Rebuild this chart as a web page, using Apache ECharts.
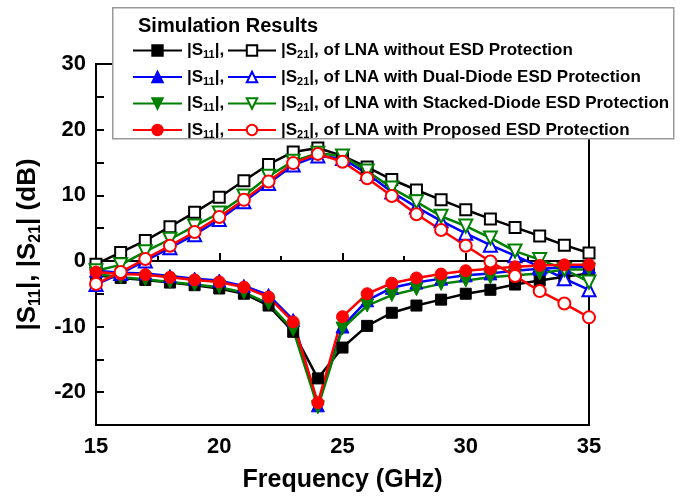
<!DOCTYPE html>
<html>
<head>
    <meta charset="UTF-8">
    <title>LNA S-parameters</title>
    <script src="https://cdn.jsdelivr.net/npm/echarts@6/dist/echarts.min.js"></script>
    <style>
        body { margin: 0; background: #fff; }
    </style>
</head>
<body>
    <div id="chart" style="width:681px; height:498px;"></div>
    <script>
        // frequency points (GHz)
        var freq = [15, 16, 17, 18, 19, 20, 21, 22, 23, 24, 25, 26, 27, 28, 29, 30, 31, 32, 33, 34, 35];

        // |S11| (dB)
        var s11None  = [-2.2, -2.6, -2.9, -3.3, -3.7, -4.2, -5.0, -6.8, -10.8, -17.9, -13.2, -9.9, -7.9, -6.8, -5.9, -5.0, -4.4, -3.6, -3.0, -2.4, -1.9];
        var s11Dual  = [-1.5, -1.8, -1.9, -2.3, -2.7, -3.0, -3.8, -5.2, -9.0, -22.0, -10.0, -6.0, -4.1, -3.3, -2.7, -2.2, -1.9, -1.5, -1.2, -1.0, -0.9];
        var s11Stack = [-2.0, -2.5, -2.8, -3.2, -3.6, -4.0, -4.8, -6.5, -10.5, -22.3, -10.3, -6.8, -5.2, -4.3, -3.5, -3.0, -2.5, -2.2, -1.9, -1.3, -1.3];
        var s11Prop  = [-1.7, -2.0, -2.1, -2.5, -2.9, -3.2, -4.0, -5.5, -9.3, -21.6, -8.5, -5.0, -3.4, -2.6, -2.0, -1.5, -1.2, -0.9, -0.7, -0.6, -0.6];

        // |S21| (dB)
        var s21None  = [-0.5, 1.3, 3.1, 5.2, 7.4, 9.7, 12.2, 14.7, 16.6, 17.2, 16.0, 14.3, 12.4, 10.8, 9.3, 7.8, 6.4, 5.1, 3.8, 2.4, 1.2];
        var s21Dual  = [-3.6, -1.9, 0.0, 2.0, 4.0, 6.3, 9.0, 11.8, 14.6, 16.0, 15.6, 13.3, 10.5, 8.2, 6.1, 4.2, 2.4, 0.8, -0.9, -2.7, -4.4];
        var s21Stack = [-1.5, -0.6, 1.4, 3.3, 5.3, 7.3, 9.9, 12.9, 15.2, 16.4, 16.0, 13.7, 11.1, 9.0, 6.8, 5.3, 3.5, 1.5, 0.2, -1.3, -3.2];
        var s21Prop  = [-3.5, -1.7, 0.3, 2.3, 4.4, 6.7, 9.3, 12.1, 14.9, 16.3, 15.1, 12.6, 9.9, 7.1, 4.7, 2.3, -0.1, -2.3, -4.6, -6.5, -8.6];

        var xTicks = [15, 20, 25, 30, 35];
        var yTicks = [-20, -10, 0, 10, 20, 30];

        var cases = [
            {key: 'None',  text: 'without ESD Protection',              color: '#000000', s11: s11None,  s21: s21None,  sym: 'rect',     size: 11},
            {key: 'Dual',  text: 'with Dual-Diode ESD Protection',      color: '#0000ff', s11: s11Dual,  s21: s21Dual,  sym: 'triangle', size: 13},
            {key: 'Stack', text: 'with Stacked-Diode ESD Protection',   color: '#008000', s11: s11Stack, s21: s21Stack, sym: 'path://M0,0 L10,0 L5,9 Z', size: 13},
            {key: 'Prop',  text: 'with Proposed ESD Protection',        color: '#ff0000', s11: s11Prop,  s21: s21Prop,  sym: 'circle',   size: 12}
        ];

        var FONT = '"Liberation Sans", Arial, sans-serif';

        function pairs(vals) {
            return freq.map(function (f, i) { return [f, vals[i]]; });
        }

        var series = [];
        var legend11 = [];
        var legend21 = [];
        var labelOf = {};
        cases.forEach(function (c) {
            var n11 = 'S11 ' + c.key, n21 = 'S21 ' + c.key;
            legend11.push(n11);
            legend21.push(n21);
            labelOf[n11] = '{t||S}{sub|11}{t||,}';
            labelOf[n21] = '{t||S}{sub|21}{t||, of LNA ' + c.text + '}';
            series.push({
                name: n11, type: 'line', data: pairs(c.s11),
                symbol: c.sym, symbolSize: c.size,
                lineStyle: {color: c.color, width: 2.5},
                itemStyle: {color: c.color, borderColor: c.color, borderWidth: 1},
                z: 3
            });
            series.push({
                name: n21, type: 'line', data: pairs(c.s21),
                symbol: c.sym, symbolSize: c.size,
                lineStyle: {color: c.color, width: 2.5},
                itemStyle: {color: '#ffffff', borderColor: c.color, borderWidth: 2},
                z: 3
            });
        });

        var legendText = {
            fontFamily: FONT,
            rich: {
                t: {fontSize: 17, fontWeight: 'bold', fontFamily: FONT, color: '#000', lineHeight: 20},
                sub: {fontSize: 11, fontWeight: 'bold', fontFamily: FONT, color: '#000', lineHeight: 20, verticalAlign: 'bottom', padding: [5, 0, 0, 0]}
            }
        };

        var chart = echarts.init(document.getElementById('chart'), null, {renderer: 'canvas'});
        chart.setOption({
            animation: false,
            backgroundColor: '#ffffff',
            title: {
                text: 'Simulation Results',
                left: 133, top: 11,
                textStyle: {fontFamily: FONT, fontSize: 20, fontWeight: 'bold', color: '#000'},
                z: 6
            },
            graphic: [{
                type: 'rect', left: 112, top: 7, z: 4,
                shape: {width: 561, height: 131},
                style: {fill: '#ffffff', stroke: '#999999', lineWidth: 1.5}
            }],
            legend: [{
                data: legend11, orient: 'vertical', left: 132, top: 42,
                itemWidth: 49, itemHeight: 13, itemGap: 8, padding: 0,
                formatter: function (name) { return labelOf[name]; },
                textStyle: legendText, z: 6
            }, {
                data: legend21, orient: 'vertical', left: 227, top: 42,
                itemWidth: 48, itemHeight: 13, itemGap: 8, padding: 0,
                formatter: function (name) { return labelOf[name]; },
                textStyle: legendText, z: 6
            }],
            grid: {
                left: 96, right: 92, top: 64, bottom: 71,
                show: true, borderColor: '#000', borderWidth: 2, backgroundColor: 'transparent'
            },
            xAxis: {
                type: 'value', min: 15, max: 35, interval: 5,
                name: 'Frequency (GHz)', nameLocation: 'middle', nameGap: 43,
                nameTextStyle: {fontFamily: FONT, fontSize: 25, fontWeight: 'bold', color: '#000'},
                axisLine: {show: true, lineStyle: {color: '#000', width: 2}},
                axisTick: {show: true, inside: true, length: 8, lineStyle: {color: '#000', width: 2}},
                minorTick: {show: true, splitNumber: 2, length: 5, lineStyle: {color: '#000', width: 2}},
                splitLine: {show: false},
                axisLabel: {
                    margin: 11, fontFamily: FONT, fontSize: 22, fontWeight: 'bold', color: '#000',
                    formatter: function (v) { return xTicks.indexOf(v) >= 0 ? String(v) : ''; }
                }
            },
            yAxis: {
                type: 'value', min: -25, max: 30, interval: 5,
                name: '{t||S}{sub|11}{t||, |S}{sub|21}{t|| (dB)}',
                nameLocation: 'middle', nameGap: 41, nameRotate: 90,
                nameTextStyle: {
                    fontFamily: FONT, color: '#000',
                    rich: {
                        t: {fontSize: 26, fontWeight: 'bold', fontFamily: FONT, color: '#000', lineHeight: 30},
                        sub: {fontSize: 16, fontWeight: 'bold', fontFamily: FONT, color: '#000', lineHeight: 30, verticalAlign: 'bottom', padding: [8, 0, 0, 0]}
                    }
                },
                axisLine: {show: true, lineStyle: {color: '#000', width: 2}},
                axisTick: {show: true, inside: true, length: 8, lineStyle: {color: '#000', width: 2}},
                splitLine: {show: false},
                axisLabel: {
                    margin: 10, fontFamily: FONT, fontSize: 22, fontWeight: 'bold', color: '#000',
                    formatter: function (v) { return yTicks.indexOf(v) >= 0 ? String(v) : ''; }
                }
            },
            series: series
        });
    </script>
</body>
</html>
